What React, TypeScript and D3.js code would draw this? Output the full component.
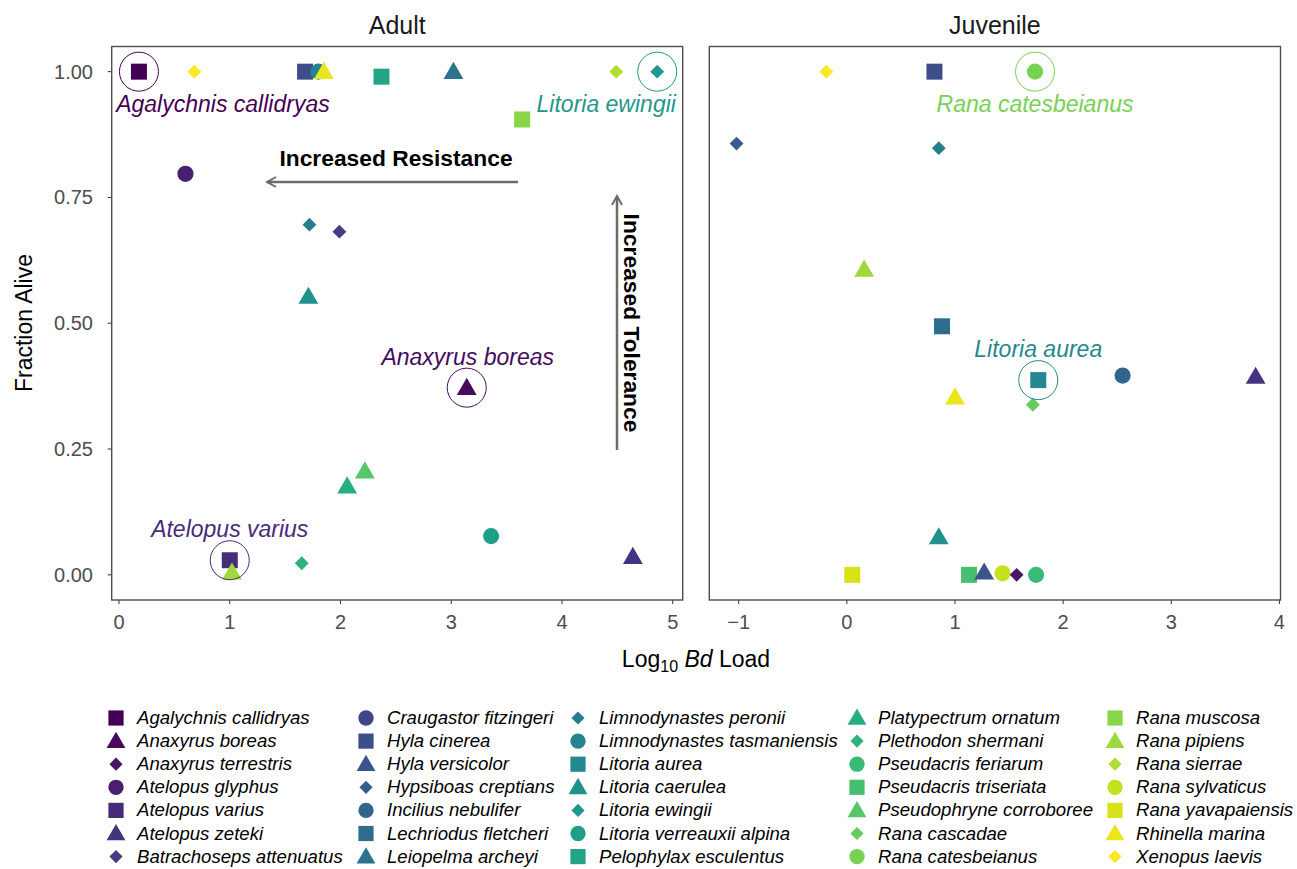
import React from "react";
import * as d3 from "d3";

const species = [
  "Agalychnis callidryas", "Anaxyrus boreas", "Anaxyrus terrestris", "Atelopus glyphus",
  "Atelopus varius", "Atelopus zeteki", "Batrachoseps attenuatus", "Craugastor fitzingeri",
  "Hyla cinerea", "Hyla versicolor", "Hypsiboas creptians", "Incilius nebulifer",
  "Lechriodus fletcheri", "Leiopelma archeyi", "Limnodynastes peronii", "Limnodynastes tasmaniensis",
  "Litoria aurea", "Litoria caerulea", "Litoria ewingii", "Litoria verreauxii alpina",
  "Pelophylax esculentus", "Platypectrum ornatum", "Plethodon shermani", "Pseudacris feriarum",
  "Pseudacris triseriata", "Pseudophryne corroboree", "Rana cascadae", "Rana catesbeianus",
  "Rana muscosa", "Rana pipiens", "Rana sierrae", "Rana sylvaticus",
  "Rana yavapaiensis", "Rhinella marina", "Xenopus laevis",
];

const shapeCycle = ["square", "triangle", "diamond", "circle"];

// [species, log10 Bd load, fraction alive]
const adultData: [string, number, number][] = [
  ["Agalychnis callidryas", 0.18, 1.0],
  ["Xenopus laevis", 0.68, 1.0],
  ["Hyla cinerea", 1.68, 1.0],
  ["Limnodynastes tasmaniensis", 1.8, 1.0],
  ["Rhinella marina", 1.85, 1.0],
  ["Pelophylax esculentus", 2.37, 0.99],
  ["Leiopelma archeyi", 3.02, 1.0],
  ["Rana sierrae", 4.49, 1.0],
  ["Litoria ewingii", 4.86, 1.0],
  ["Rana muscosa", 3.64, 0.905],
  ["Atelopus glyphus", 0.6, 0.797],
  ["Limnodynastes peronii", 1.72, 0.696],
  ["Batrachoseps attenuatus", 1.99, 0.682],
  ["Litoria caerulea", 1.71, 0.553],
  ["Anaxyrus boreas", 3.14, 0.372],
  ["Pseudophryne corroboree", 2.22, 0.206],
  ["Platypectrum ornatum", 2.06, 0.176],
  ["Litoria verreauxii alpina", 3.36, 0.077],
  ["Plethodon shermani", 1.65, 0.023],
  ["Atelopus varius", 1.0, 0.029],
  ["Rana pipiens", 1.02, 0.005],
  ["Atelopus zeteki", 4.64, 0.036],
];

const juvenileData: [string, number, number][] = [
  ["Xenopus laevis", -0.19, 1.0],
  ["Hyla cinerea", 0.81, 1.0],
  ["Rana catesbeianus", 1.74, 1.0],
  ["Hypsiboas creptians", -1.02, 0.857],
  ["Limnodynastes peronii", 0.85, 0.848],
  ["Rana pipiens", 0.16, 0.607],
  ["Lechriodus fletcheri", 0.88, 0.494],
  ["Litoria aurea", 1.77, 0.387],
  ["Incilius nebulifer", 2.55, 0.396],
  ["Atelopus zeteki", 3.78, 0.394],
  ["Rhinella marina", 1.0, 0.353],
  ["Rana cascadae", 1.72, 0.338],
  ["Litoria caerulea", 0.85, 0.075],
  ["Rana yavapaiensis", 0.05, 0.0],
  ["Pseudacris triseriata", 1.13, 0.0],
  ["Hyla versicolor", 1.27, 0.005],
  ["Rana sylvaticus", 1.44, 0.003],
  ["Anaxyrus terrestris", 1.57, 0.0],
  ["Pseudacris feriarum", 1.75, 0.0],
];

const adultHighlights = ["Agalychnis callidryas", "Litoria ewingii", "Anaxyrus boreas", "Atelopus varius"];
const juvenileHighlights = ["Rana catesbeianus", "Litoria aurea"];

const adultTicks = [0, 1, 2, 3, 4, 5];
const juvenileTicks = [-1, 0, 1, 2, 3, 4];
const yTicks = [0, 0.25, 0.5, 0.75, 1.0];

const FONT = "'Liberation Sans', Arial, sans-serif";

const colorOf = (name: string) => d3.interpolateViridis(species.indexOf(name) / (species.length - 1));
const shapeOf = (name: string) => shapeCycle[species.indexOf(name) % 4];

function symbolPath(shape: string, scale = 1) {
  if (shape === "square") return d3.symbol(d3.symbolSquare, 256 * scale * scale)();
  if (shape === "triangle") return d3.symbol(d3.symbolTriangle, 170 * scale * scale)();
  if (shape === "diamond") return d3.symbol(d3.symbolSquare, 96 * scale * scale)();
  return d3.symbol(d3.symbolCircle, 205 * scale * scale)();
}

function Marker({ name, x, y, scale = 1 }: { name: string; x: number; y: number; scale?: number }) {
  const shape = shapeOf(name);
  const rot = shape === "diamond" ? 45 : 0;
  const dy = shape === "triangle" ? 1.5 * scale : 0;
  return (
    <path
      d={symbolPath(shape, scale) || ""}
      transform={`translate(${x},${y + dy}) rotate(${rot})`}
      fill={colorOf(name)}
    />
  );
}

const yScale = d3.scaleLinear().domain([-0.05, 1.05]).range([600, 46.5]);

function Panel({
  data, xScale, ticks, title, highlights, labelOffsets,
}: {
  data: [string, number, number][];
  xScale: d3.ScaleLinear<number, number>;
  ticks: number[];
  title: string;
  highlights: string[];
  labelOffsets: Record<string, [number, number]>;
}) {
  const [x0, x1] = xScale.range();
  const yTop = yScale.range()[1];
  const yBot = yScale.range()[0];
  return (
    <g>
      <text x={(x0 + x1) / 2} y={34} textAnchor="middle" fontSize={25} fill="#1a1a1a" fontFamily={FONT}>
        {title}
      </text>
      {ticks.map((t) => (
        <g key={t}>
          <line x1={xScale(t)} x2={xScale(t)} y1={yBot} y2={yBot + 4} stroke="#333" strokeWidth={1} />
          <text x={xScale(t)} y={yBot + 29} textAnchor="middle" fontSize={20} fill="#4d4d4d" fontFamily={FONT}>
            {t < 0 ? `\u2212${Math.abs(t)}` : t}
          </text>
        </g>
      ))}
      {data.map(([n, x, y], i) => (
        <Marker key={i} name={n} x={xScale(x)} y={yScale(y)} />
      ))}
      {data
        .filter(([n]) => highlights.includes(n))
        .map(([n, x, y]) => {
          const [dx, dy] = labelOffsets[n];
          return (
            <g key={n}>
              <circle cx={xScale(x)} cy={yScale(y)} r={19.5} fill="none" stroke={colorOf(n)} strokeWidth={1} />
              <text
                x={xScale(x) + dx}
                y={yScale(y) + dy}
                textAnchor="middle"
                fontSize={23}
                fontStyle="italic"
                fill={colorOf(n)}
                fontFamily={FONT}
              >
                {n}
              </text>
            </g>
          );
        })}
      <rect x={x0} y={yTop} width={x1 - x0} height={yBot - yTop} fill="none" stroke="#4d4d4d" strokeWidth={1.4} />
    </g>
  );
}

export default function App() {
  const xAdult = d3.scaleLinear().domain([-0.066, 5.09]).range([111.7, 682.7]);
  const xJuv = d3.scaleLinear().domain([-1.272, 4.01]).range([709.3, 1280.5]);

  const legendCols = [116, 366, 578, 857, 1115];
  const legendRows = 7;
  const legendY0 = 718;
  const legendDy = 23.1;

  return (
    <svg width={1297} height={869} style={{ display: "block", position: "absolute", left: 0, top: 0 }}>
      <defs>
        <marker id="arr" viewBox="0 0 12 12" refX="10" refY="6" markerWidth="12" markerHeight="12" markerUnits="userSpaceOnUse" orient="auto">
          <path d="M1,1 L10,6 L1,11" fill="none" stroke="#6b6b6b" strokeWidth={2} />
        </marker>
      </defs>
      <rect x={0} y={0} width={1297} height={869} fill="#fff" />

      {yTicks.map((t) => (
        <g key={t}>
          <line x1={107.7} x2={111.7} y1={yScale(t)} y2={yScale(t)} stroke="#333" strokeWidth={1} />
          <text x={93} y={yScale(t) + 7} textAnchor="end" fontSize={20} fill="#4d4d4d" fontFamily={FONT}>
            {t.toFixed(2)}
          </text>
        </g>
      ))}
      <text
        transform={`translate(32,323) rotate(-90)`}
        textAnchor="middle"
        fontSize={23}
        fill="#000"
        fontFamily={FONT}
      >
        Fraction Alive
      </text>

      <Panel
        data={adultData}
        xScale={xAdult}
        ticks={adultTicks}
        title="Adult"
        highlights={adultHighlights}
        labelOffsets={{
          "Agalychnis callidryas": [84, 40],
          "Litoria ewingii": [-51, 40],
          "Anaxyrus boreas": [1, -23],
          "Atelopus varius": [0, -23],
        }}
      />
      <Panel
        data={juvenileData}
        xScale={xJuv}
        ticks={juvenileTicks}
        title="Juvenile"
        highlights={juvenileHighlights}
        labelOffsets={{
          "Rana catesbeianus": [0, 40],
          "Litoria aurea": [0, -23],
        }}
      />

      {/* Annotations */}
      <text x={396} y={166} textAnchor="middle" fontSize={22.8} fontWeight="bold" fill="#000" fontFamily={FONT}>
        Increased Resistance
      </text>
      <line x1={518} y1={182} x2={267} y2={182} stroke="#6b6b6b" strokeWidth={2.5} markerEnd="url(#arr)" />
      <text
        transform={`translate(624,323) rotate(90)`}
        textAnchor="middle"
        fontSize={22.8}
        fontWeight="bold"
        fill="#000"
        fontFamily={FONT}
      >
        Increased Tolerance
      </text>
      <line x1={617} y1={450} x2={617} y2={196} stroke="#6b6b6b" strokeWidth={2.5} markerEnd="url(#arr)" />

      {/* X axis title */}
      <text x={696} y={667} textAnchor="middle" fontSize={23} fill="#000" fontFamily={FONT}>
        Log
        <tspan fontSize={16} dy={5}>10</tspan>
        <tspan dy={-5}> </tspan>
        <tspan fontStyle="italic">Bd</tspan>
        <tspan> Load</tspan>
      </text>

      {/* Legend */}
      {species.map((n, i) => {
        const col = Math.floor(i / legendRows);
        const row = i % legendRows;
        const cx = legendCols[col];
        const cy = legendY0 + row * legendDy;
        return (
          <g key={n}>
            <Marker name={n} x={cx} y={cy} scale={0.95} />
            <text x={cx + 21} y={cy + 6} fontSize={18.6} fontStyle="italic" fill="#000" fontFamily={FONT}>
              {n}
            </text>
          </g>
        );
      })}
    </svg>
  );
}
